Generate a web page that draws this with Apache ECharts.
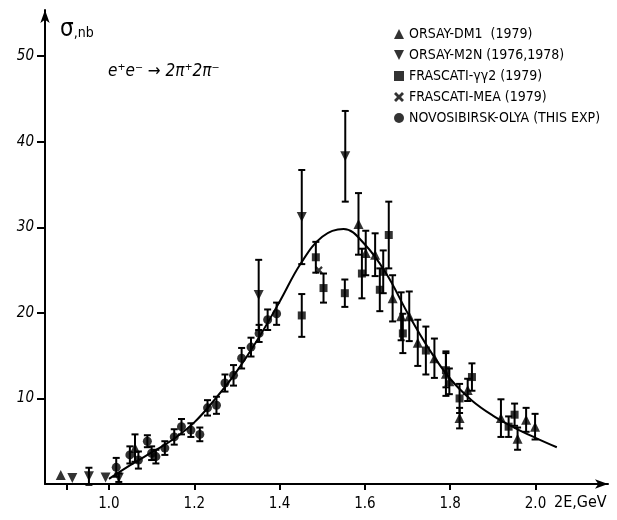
<!DOCTYPE html>
<html><head><meta charset="utf-8">
<script src="https://cdn.jsdelivr.net/npm/echarts@6/dist/echarts.min.js"></script>
<style>html,body{margin:0;padding:0;background:#fff}#c{width:617px;height:520px}</style>
</head><body><div id="c"></div>
<script>
// ---- data (energy 2E in GeV, cross-section in nb, error in nb) ----
const dm1E   = [0.887, 1.061, 1.585, 1.602, 1.624, 1.665, 1.685, 1.704, 1.724, 1.763, 1.790, 1.798, 1.822, 1.841, 1.919, 1.958, 1.978, 1.999];
const dm1V   = [1.05,  4.2,   30.4,  27.0,  26.8,  21.7,  19.6,  19.6,  16.5,  14.7,  12.9,  12.0,  7.7,   11.0,  7.7,   5.3,   7.5,   6.7];
const dm1Err = [0,     1.6,   3.6,   2.6,   2.5,   2.7,   2.8,   2.9,   2.7,   2.3,   2.6,   1.5,   1.2,   1.3,   2.2,   1.3,   1.4,   1.5];

const m2nE   = [0.914, 0.953, 0.992, 1.023, 1.351, 1.452, 1.554];
const m2nV   = [0.7,   0.9,   0.75,  0.74,  22.1,  31.2,  38.3];
const m2nErr = [0,     1.0,   0,     0.5,   4.1,   5.5,   5.3];

const ggE    = [1.452, 1.485, 1.503, 1.553, 1.593, 1.635, 1.643, 1.656, 1.689, 1.743, 1.790, 1.822, 1.851, 1.937, 1.951];
const ggV    = [19.7,  26.5,  22.9,  22.3,  24.6,  22.7,  24.8,  29.1,  17.6,  15.6,  13.3,  10.0,  12.5,  6.7,   8.1];
const ggErr  = [2.5,   1.8,   1.7,   1.6,   2.9,   2.5,   2.5,   3.9,   2.3,   2.8,   2.0,   1.7,   1.6,   1.2,   1.3];

const meaE   = [1.492];
const meaV   = [25.0];
const meaErr = [0];

const olyaE   = [1.017, 1.049, 1.069, 1.090, 1.100, 1.110, 1.131, 1.153, 1.170, 1.192, 1.213, 1.231, 1.252, 1.272, 1.292, 1.311, 1.333, 1.352, 1.372, 1.393];
const olyaV   = [1.95,  3.4,   2.8,   5.0,   3.6,   3.2,   4.2,   5.5,   6.7,   6.3,   5.8,   8.9,   9.2,   11.8,  12.7,  14.7,  16.0,  17.6,  19.2,  19.9];
const olyaErr = [1.1,   1.0,   1.0,   0.7,   0.8,   0.8,   0.8,   0.9,   0.9,   0.8,   0.8,   0.9,   1.0,   1.0,   1.2,   1.2,   1.1,   1.0,   1.2,   1.3];

const fitE = [1.00, 1.05, 1.10, 1.15, 1.20, 1.25, 1.30, 1.35, 1.40, 1.45, 1.50, 1.55, 1.60, 1.65, 1.70, 1.75, 1.80, 1.85, 1.90, 1.95, 2.00, 2.05];
const fitV = [0.6,  2.2,  3.7,  5.2,  7.2,  10.0, 13.2, 17.0, 21.3, 25.8, 28.9, 29.8, 28.0, 24.6, 20.0, 15.8, 12.3, 9.8,  8.0,  6.6,  5.4,  4.3];

const xTickVals  = [0.9, 1.0, 1.2, 1.4, 1.6, 1.8, 2.0];
const xLabelVals = [1.0, 1.2, 1.4, 1.6, 1.8, 2.0];
const yTickVals  = [10, 20, 30, 40, 50];

const names = ['ORSAY-DM1  (1979)', 'ORSAY-M2N (1976,1978)', 'FRASCATI-γγ2 (1979)', 'FRASCATI-MEA (1979)', 'NOVOSIBIRSK-OLYA (THIS EXP)'];

// ---- build ----
const FONT = "'Liberation Sans Narrow','DejaVu Sans Condensed','Liberation Sans',sans-serif";
const zip = (a, b) => a.map((v, i) => [v, b[i]]);
const zip3 = (a, b, c) => a.map((v, i) => [v, b[i], c[i]]);
const allErr = [].concat(
  zip3(dm1E, dm1V, dm1Err), zip3(m2nE, m2nV, m2nErr), zip3(ggE, ggV, ggErr),
  zip3(meaE, meaV, meaErr), zip3(olyaE, olyaV, olyaErr)
).filter(d => d[2] > 0);

const downTri = 'path://M0,0 L10,0 L5,10 Z';
const cross = 'path://M0,2 L2,0 L5,3 L8,0 L10,2 L7,5 L10,8 L8,10 L5,7 L2,10 L0,8 L3,5 Z';

function renderErr(params, api) {
  const x = api.value(0), y = api.value(1), e = api.value(2);
  const top = api.coord([x, y + e]), bot = api.coord([x, y - e]);
  const w = 3.5;
  const st = { stroke: '#000', lineWidth: 2 };
  return { type: 'group', children: [
    { type: 'line', shape: { x1: top[0], y1: top[1], x2: bot[0], y2: bot[1] }, style: st },
    { type: 'line', shape: { x1: top[0] - w, y1: top[1], x2: top[0] + w, y2: top[1] }, style: st },
    { type: 'line', shape: { x1: bot[0] - w, y1: bot[1], x2: bot[0] + w, y2: bot[1] }, style: st }
  ]};
}

const scat = (name, data, symbol, size) => ({
  type: 'scatter', name, data, symbol, symbolSize: size,
  itemStyle: { color: '#000' }, z: 5
});

const chart = echarts.init(document.getElementById('c'), null, { renderer: 'canvas' });
chart.setOption({
  animation: false,
  backgroundColor: '#fff',
  grid: { left: 45, right: 9, top: 10, bottom: 36, containLabel: false },
  legend: {
    orient: 'vertical', left: 389, top: 22, itemWidth: 10, itemHeight: 10, itemGap: 7,
    textStyle: { fontFamily: FONT, fontSize: 14, color: '#000' },
    data: names
  },
  xAxis: {
    type: 'value', min: 0.85, max: 2.17,
    splitLine: { show: false },
    axisLine: { show: true, onZero: false, lineStyle: { color: '#000', width: 2 }, symbol: ['none', 'arrow'], symbolSize: [7, 13] },
    axisTick: { show: true, customValues: xTickVals, length: 6, lineStyle: { color: '#000', width: 2 } },
    axisLabel: { customValues: xLabelVals, formatter: v => v.toFixed(1), margin: 13, fontFamily: FONT, fontSize: 15, color: '#000' }
  },
  yAxis: {
    type: 'value', min: 0, max: 55.4,
    splitLine: { show: false },
    axisLine: { show: true, onZero: false, lineStyle: { color: '#000', width: 2 }, symbol: ['none', 'arrow'], symbolSize: [7, 13] },
    axisTick: { show: true, customValues: yTickVals, length: 8, lineStyle: { color: '#000', width: 2 } },
    axisLabel: { customValues: yTickVals, margin: 11, fontFamily: FONT, fontSize: 15, fontStyle: 'italic', color: '#000' }
  },
  graphic: [
    { type: 'text', left: 60, top: 18, style: {
        text: '{a|σ}{b|,nb}', fill: '#000',
        rich: { a: { fontFamily: FONT, fontSize: 24 }, b: { fontFamily: FONT, fontSize: 14, padding: [7, 0, 0, 0] } } } },
    { type: 'text', left: 108, top: 63, style: { text: 'e⁺e⁻ → 2π⁺2π⁻', fill: '#000', font: "italic 17px 'Liberation Sans Narrow','DejaVu Sans Condensed',sans-serif" } },
    { type: 'text', left: 554, top: 495, style: { text: '2E,GeV', fill: '#000', font: "16px 'Liberation Sans Narrow','DejaVu Sans Condensed',sans-serif" } }
  ],
  series: [
    { type: 'line', name: 'fit', data: zip(fitE, fitV), smooth: 0.4, showSymbol: false, symbol: 'none',
      lineStyle: { color: '#000', width: 2 }, z: 3, silent: true },
    { type: 'custom', name: 'errors', data: allErr, renderItem: renderErr, z: 4, silent: true },
    scat(names[0], zip(dm1E, dm1V), 'triangle', 10),
    scat(names[1], zip(m2nE, m2nV), downTri, 10),
    scat(names[2], zip(ggE, ggV), 'rect', 8),
    scat(names[3], zip(meaE, meaV), cross, 8),
    scat(names[4], zip(olyaE, olyaV), 'circle', 9)
  ]
});
</script>
</body></html>
